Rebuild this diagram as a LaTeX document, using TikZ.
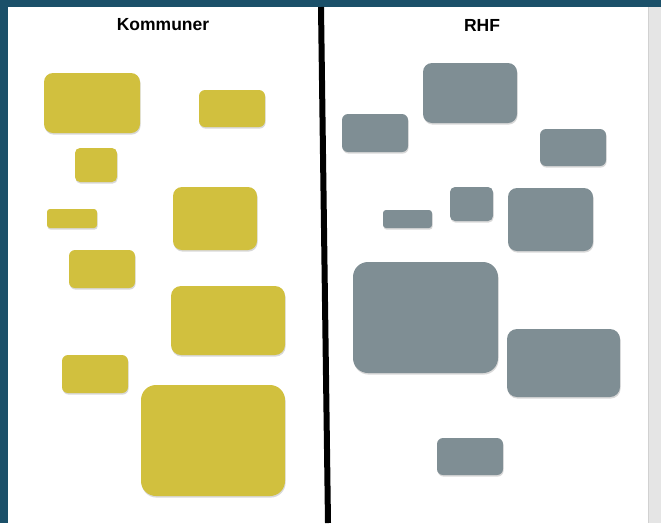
\documentclass[tikz,border=0pt]{standalone}
\usepackage{fontspec}
\setmainfont{Liberation Sans}
\usetikzlibrary{shadows}
\definecolor{frameblue}{HTML}{1B5069}
\definecolor{kommgul}{HTML}{D1C03E}
\definecolor{rhfgraa}{HTML}{7F8E94}
\definecolor{scrollgraa}{HTML}{E5E5E5}
\tikzset{
  blokk/.style={inner sep=0pt,outer sep=0pt,
    drop shadow={opacity=0.3,shadow xshift=0.6pt,shadow yshift=-1.6pt}},
  kboks/.style={blokk,fill=kommgul},
  rboks/.style={blokk,fill=rhfgraa},
  tittel/.style={font=\bfseries\fontsize{17.5}{20}\selectfont}
}
\begin{document}
\begin{tikzpicture}[x=1pt,y=-1pt]
  \useasboundingbox (0,0) rectangle (661,523);
  \fill[white] (0,0) rectangle (661,523);
  % ramme og rullefelt
  \fill[frameblue] (0,0) rectangle (661,7);
  \fill[frameblue] (0,7) rectangle (8,523);
  \fill[scrollgraa] (648,7) rectangle (661,523);
  \draw[black!18,line width=1.2] (648.6,7) -- (648.6,523);
  % skillelinje
  \coordinate (topp) at (321,7);
  \coordinate (bunn) at (328,523);
  \draw[line width=6] (topp) -- (bunn);
  % titler
  \node[tittel] (kommuner) at (163,25) {Kommuner};
  \node[tittel] (rhf) at (482,25) {RHF};
  % kommuner: x1/y1/x2/y2/radius
  \foreach \navn/\xa/\ya/\xb/\yb/\rad in {
      k1/44/73/140/133/9, k2/199/90/265/127/6, k3/75/148/117/182/5,
      k4/47/209/97/228/3, k5/173/187/257/250/9, k6/69/250/135/288/6,
      k7/171/286/285/355/10, k8/62/355/128/393/6, k9/141/385/285/496/15}{
    \node[kboks,rounded corners=\rad,minimum width={\xb-\xa},
      minimum height={\yb-\ya}] (\navn) at ({(\xa+\xb)/2},{(\ya+\yb)/2}) {};
  }
  % RHF
  \foreach \navn/\xa/\ya/\xb/\yb/\rad in {
      r1/423/63/517/123/9, r2/342/114/408/152/6, r3/540/129/606/166/6,
      r4/450/187/493/221/5, r5/383/210/432/228/3, r6/508/188/593/251/9,
      r7/353/262/498/373/15, r8/507/329/620/397/10, r9/437/438/503/475/6}{
    \node[rboks,rounded corners=\rad,minimum width={\xb-\xa},
      minimum height={\yb-\ya}] (\navn) at ({(\xa+\xb)/2},{(\ya+\yb)/2}) {};
  }
\end{tikzpicture}
\end{document}
